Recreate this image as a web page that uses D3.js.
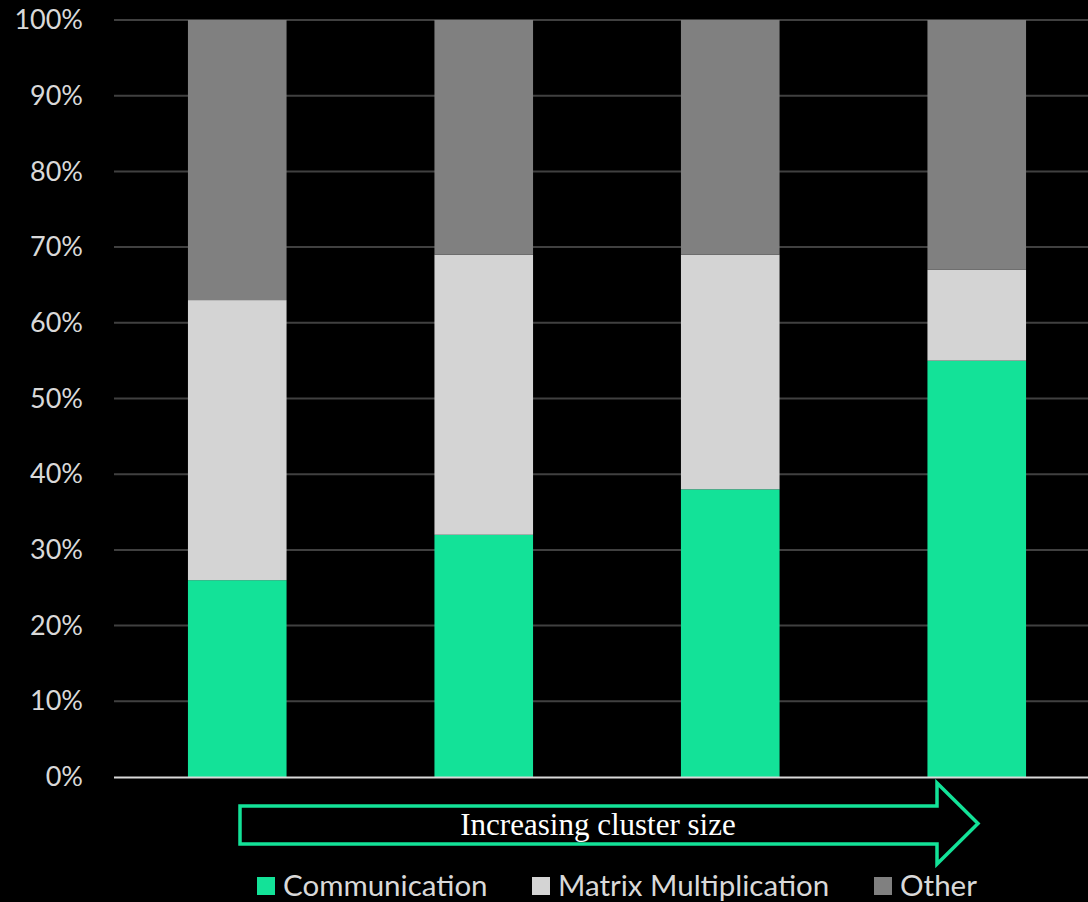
<!DOCTYPE html>
<html>
<head>
<meta charset="utf-8">
<script src="https://cdn.jsdelivr.net/npm/d3@7"></script>
<style>
  html, body { margin: 0; padding: 0; background: #000; }
  svg { display: block; }
</style>
</head>
<body>
<div id="chart"></div>
<script>
// Chart data
const categories = ['A', 'B', 'C', 'D'];
const seriesNames = ['Communication', 'Matrix Multiplication', 'Other'];
const communication = [26, 32, 38, 55];
const matrixMult = [37, 37, 31, 12];
const other = [37, 31, 31, 33];
const yTicks = [0, 10, 20, 30, 40, 50, 60, 70, 80, 90, 100];
const arrowLabel = 'Increasing cluster size';

const colors = ['#13e298', '#d4d4d4', '#808080'];

// Build rows for stacking
const rows = categories.map((c, i) => ({
    cat: c,
    'Communication': communication[i],
    'Matrix Multiplication': matrixMult[i],
    'Other': other[i]
}));

const W = 1088, H = 902;
const margin = { top: 20, right: -12, bottom: 125, left: 114 };
const width = W - margin.left - margin.right;
const height = H - margin.top - margin.bottom;

const svg = d3.select('#chart')
    .append('svg')
        .attr('width', W)
        .attr('height', H)
        .style('background', '#000');

const g = svg.append('g')
    .attr('transform', `translate(${margin.left},${margin.top})`);

const x = d3.scaleBand()
    .domain(categories)
    .range([0, width])
    .paddingInner(0.6)
    .paddingOuter(0.3);

const y = d3.scaleLinear()
    .domain([0, 100])
    .range([height, 0]);

// Gridlines
g.selectAll('.grid')
    .data(yTicks.filter(t => t > 0))
    .enter()
    .append('line')
        .attr('x1', 0)
        .attr('x2', W - margin.left)
        .attr('y1', d => y(d))
        .attr('y2', d => y(d))
        .attr('stroke', '#404040')
        .attr('stroke-width', 2);

// Y axis labels
const yAxis = d3.axisLeft(y)
    .tickValues(yTicks)
    .tickFormat(d => d + '%')
    .tickSize(0)
    .tickPadding(31);

const yG = g.append('g').call(yAxis);
yG.select('.domain').remove();
yG.selectAll('text')
    .attr('fill', '#d9d9d9')
    .style('font-family', 'Lato, "Open Sans", sans-serif')
    .style('font-size', '27px');

// Stacked bars
const stack = d3.stack().keys(seriesNames);
const layers = stack(rows);

g.selectAll('.layer')
    .data(layers)
    .enter()
    .append('g')
        .attr('fill', (d, i) => colors[i])
    .selectAll('rect')
    .data(d => d)
    .enter()
    .append('rect')
        .attr('x', d => x(d.data.cat))
        .attr('y', d => y(d[1]))
        .attr('width', x.bandwidth())
        .attr('height', d => y(d[0]) - y(d[1]));

// Zero axis line
g.append('line')
    .attr('x1', 0)
    .attr('x2', W - margin.left)
    .attr('y1', y(0) + 0.5)
    .attr('y2', y(0) + 0.5)
    .attr('stroke', '#d9d9d9')
    .attr('stroke-width', 2);

// Arrow annotation
const ax0 = 240, ax1 = 937, tip = 978;
const bodyTop = 806, bodyBot = 844, headTop = 783, headBot = 864;
const arrowPath = d3.path();
arrowPath.moveTo(ax0, bodyTop);
arrowPath.lineTo(ax1, bodyTop);
arrowPath.lineTo(ax1, headTop);
arrowPath.lineTo(tip, (headTop + headBot) / 2);
arrowPath.lineTo(ax1, headBot);
arrowPath.lineTo(ax1, bodyBot);
arrowPath.lineTo(ax0, bodyBot);
arrowPath.closePath();

svg.append('path')
    .attr('d', arrowPath.toString())
    .attr('fill', 'none')
    .attr('stroke', colors[0])
    .attr('stroke-width', 3.5);

svg.append('text')
    .attr('x', 598)
    .attr('y', 835)
    .attr('text-anchor', 'middle')
    .attr('fill', '#fff')
    .style('font-family', '"Liberation Serif", "Times New Roman", serif')
    .style('font-size', '31px')
    .text(arrowLabel);

// Legend
const legendX = [257, 532, 874];
const legend = svg.selectAll('.legend')
    .data(seriesNames)
    .enter()
    .append('g')
        .attr('transform', (d, i) => `translate(${legendX[i]},877)`);

legend.append('rect')
    .attr('width', 18)
    .attr('height', 18)
    .attr('fill', (d, i) => colors[i]);

legend.append('text')
    .attr('x', 26)
    .attr('y', 19)
    .attr('fill', '#d9d9d9')
    .style('font-family', 'Lato, "Open Sans", sans-serif')
    .style('font-size', '29.5px')
    .text(d => d);
</script>
</body>
</html>
